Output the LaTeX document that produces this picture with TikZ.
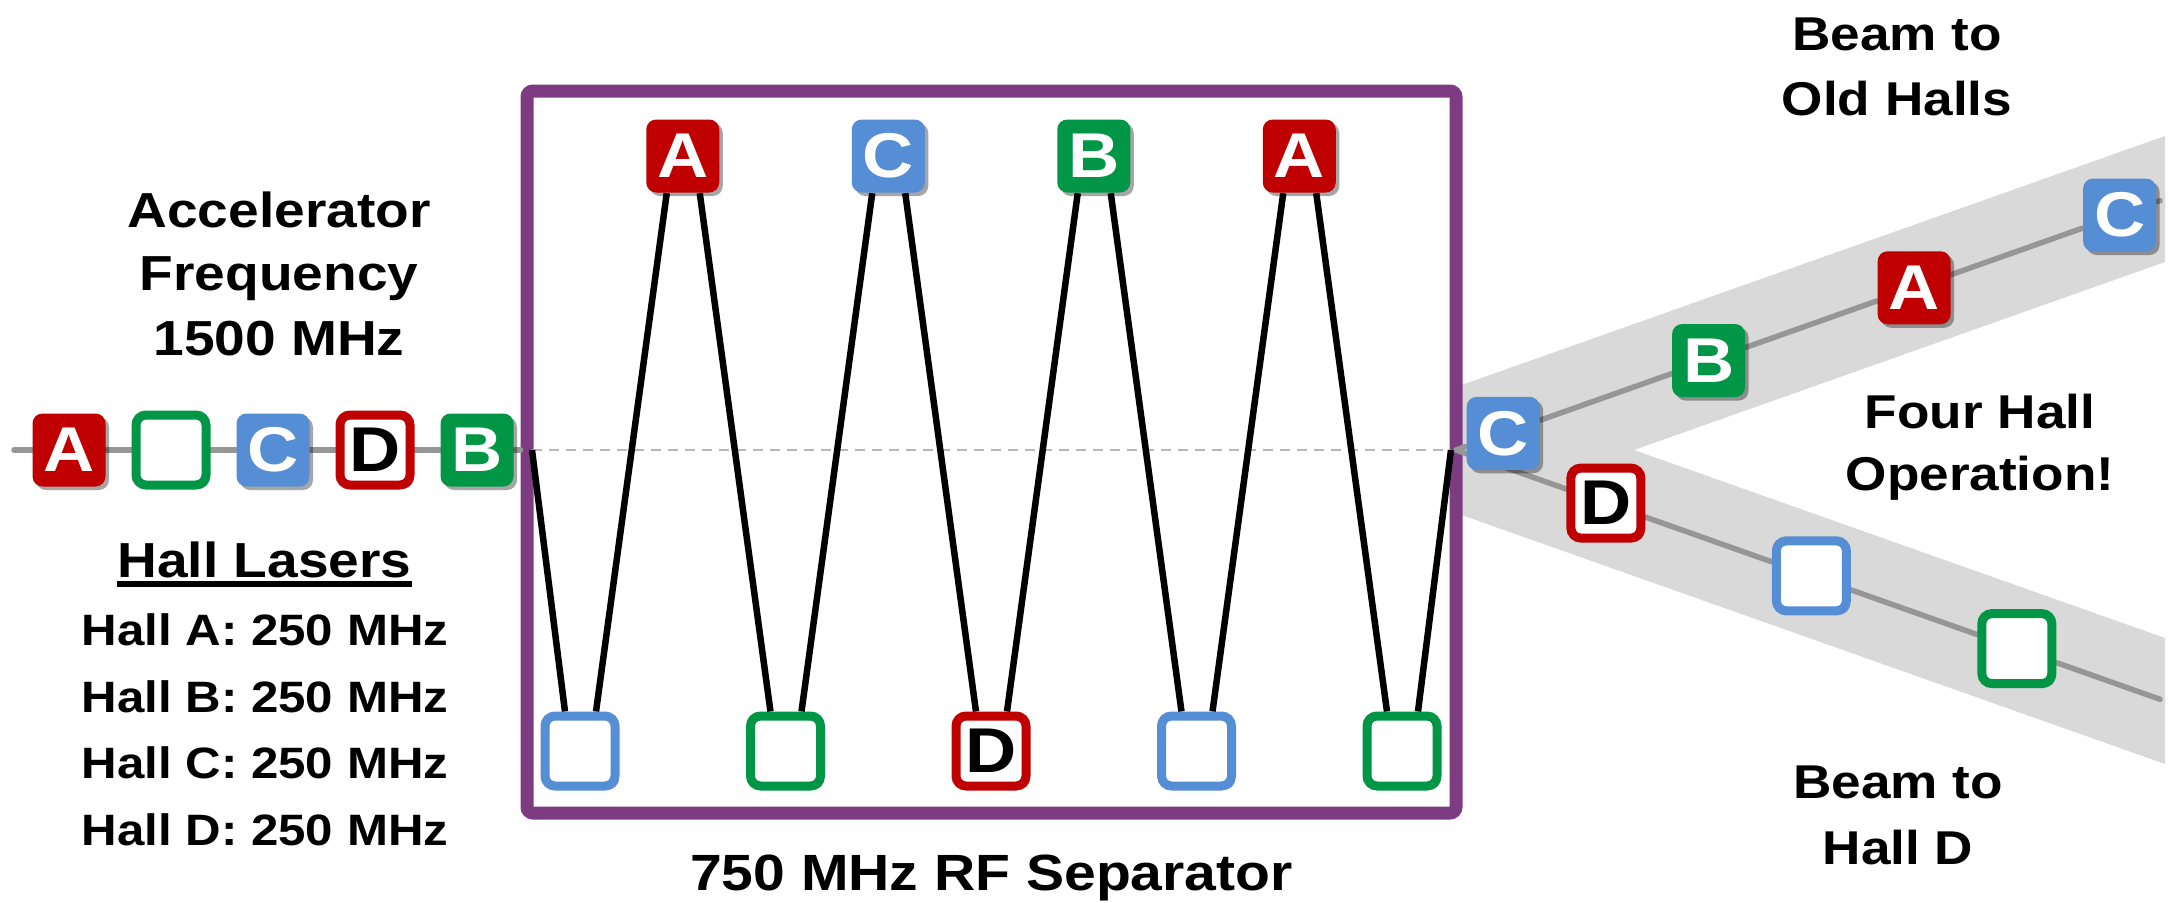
\documentclass[tikz,border=0pt]{standalone}
\usepackage{fontspec}
\setmainfont{Liberation Sans}[FakeStretch=1.12]
\usepackage{xcolor}
\usetikzlibrary{calc,shadows}

\definecolor{hallred}{RGB}{192,0,0}
\definecolor{hallgreen}{RGB}{0,150,70}
\definecolor{hallblue}{RGB}{85,142,213}
\definecolor{seppurple}{RGB}{125,60,130}
\definecolor{bandgray}{RGB}{217,217,217}
\definecolor{beamgray}{RGB}{150,150,150}

\pgfdeclarelayer{bg}
\pgfdeclarelayer{beams}
\pgfsetlayers{bg,beams,main}

\begin{document}
\begin{tikzpicture}[
  fullbox/.style={rectangle, fill=#1, rounded corners=0.1cm, inner sep=0pt,
                  minimum size=0.73cm, text=white,
                  font=\fontsize{18}{18}\selectfont\bfseries,
                  drop shadow={shadow xshift=0.035cm, shadow yshift=-0.035cm,
                               fill=black, opacity=0.35}},
  openbox/.style={rectangle, draw=#1, fill=white, line width=0.09cm,
                  rounded corners=0.1cm, inner sep=0pt, minimum size=0.70cm,
                  text=black, font=\fontsize{18}{18}\selectfont\bfseries,
                  drop shadow={shadow xshift=0.035cm, shadow yshift=-0.035cm,
                               fill=black, opacity=0.35}},
  lbl/.style={anchor=base, inner sep=0pt,
              font=\fontsize{14}{17}\selectfont\bfseries},
  hallline/.style={lbl, font=\fontsize{12.5}{15}\selectfont\bfseries},
  rlbl/.style={lbl, font=\fontsize{13.5}{16}\selectfont\bfseries},
  seplbl/.style={lbl, font=\fontsize{14.5}{17}\selectfont\bfseries},
  wave/.style={line width=0.065cm, draw=black},
  beam/.style={line width=0.055cm, draw=beamgray, line cap=round},
  rfdash/.style={line width=0.022cm, draw=black!28,
                 dash pattern=on 0.1cm off 0.07cm},
]

\useasboundingbox (0,0) rectangle (21.75,9.02);

%% Left — bunch train at the accelerator frequency
\node[fullbox=hallred]   (l1) at (0.69,4.52) {A};
\node[openbox=hallgreen] (l2) at (1.71,4.52) {};
\node[fullbox=hallblue]  (l3) at (2.73,4.52) {C};
\node[openbox=hallred]   (l4) at (3.75,4.52) {D};
\node[fullbox=hallgreen] (l5) at (4.77,4.52) {B};

\node[lbl] (acc1) at (2.79,6.75) {Accelerator};
\node[lbl] (acc2) at (2.79,6.12) {Frequency};
\node[lbl] (acc3) at (2.79,5.47) {1500 MHz};

\node[lbl] (hlas) at (2.645,3.25) {Hall Lasers};
\draw[line width=1.6pt] ([yshift=-0.07cm]hlas.base west) -- ([yshift=-0.07cm]hlas.base east);
\node[hallline] (hA) at (2.65,2.57) {Hall A: 250 MHz};
\node[hallline] (hB) at (2.65,1.90) {Hall B: 250 MHz};
\node[hallline] (hC) at (2.65,1.24) {Hall C: 250 MHz};
\node[hallline] (hD) at (2.65,0.57) {Hall D: 250 MHz};

%% Separator — top row (kicked up), bottom row (kicked down)
\node[fullbox=hallred]   (t1) at (6.8275,7.46)  {A};
\node[fullbox=hallblue]  (t2) at (8.8825,7.46)  {C};
\node[fullbox=hallgreen] (t3) at (10.9375,7.46) {B};
\node[fullbox=hallred]   (t4) at (12.9925,7.46) {A};

\node[openbox=hallblue]  (b1) at (5.80,1.51)   {};
\node[openbox=hallgreen] (b2) at (7.855,1.51)  {};
\node[openbox=hallred]   (b3) at (9.91,1.51)   {D};
\node[openbox=hallblue]  (b4) at (11.965,1.51) {};
\node[openbox=hallgreen] (b5) at (14.02,1.51)  {};

\node[seplbl] (sepl) at (9.915,0.12) {750 MHz RF Separator};

%% Right — the two beam lines after the separator
\coordinate (rOrig) at (14.56,4.52);
\node[fullbox=hallblue]  (u1) at ($(rOrig)+(19.5:0.50)$) {C};
\node[fullbox=hallgreen] (u2) at ($(rOrig)+(19.5:2.68)$) {B};
\node[fullbox=hallred]   (u3) at ($(rOrig)+(19.5:4.86)$) {A};
\node[fullbox=hallblue]  (u4) at ($(rOrig)+(19.5:7.04)$) {C};
\coordinate (uEnd) at ($(rOrig)+(19.5:7.47)$);

\node[openbox=hallred]   (d1) at ($(rOrig)+(-19.5:1.59)$) {D};
\node[openbox=hallblue]  (d2) at ($(rOrig)+(-19.5:3.77)$) {};
\node[openbox=hallgreen] (d3) at ($(rOrig)+(-19.5:5.95)$) {};
\coordinate (dEnd) at ($(rOrig)+(-19.5:7.47)$);

\node[rlbl] (old1)  at (18.97,8.52) {Beam to};
\node[rlbl] (old2)  at (18.97,7.87) {Old Halls};
\node[rlbl] (four1) at (19.80,4.74) {Four Hall};
\node[rlbl] (four2) at (19.80,4.12) {Operation!};
\node[rlbl] (hall1) at (18.98,1.04) {Beam to};
\node[rlbl] (hall2) at (18.98,0.38) {Hall D};

%% ── Background: beam bands and separator cavity ──────────────────────────
\begin{pgfonlayer}{bg}
  \fill[white] (0,0) rectangle (21.75,9.02);
  \fill[bandgray] (14.56,5.15) -- (21.65,7.66) -- (21.65,6.40) -- (16.34,4.52)
    -- (21.65,2.64) -- (21.65,1.38) -- (14.56,3.89) -- cycle;
  \node[draw=seppurple, fill=white, line width=0.13cm, rounded corners=0.06cm,
        inner sep=0pt, minimum width=9.29cm, minimum height=7.22cm]
    (sep) at (9.915,4.50) {};
  \coordinate (wIn)  at (5.32,4.52);
  \coordinate (wOut) at (14.51,4.52);
  \draw[rfdash] (wIn) -- (wOut);
\end{pgfonlayer}

%% ── Beam lines and RF wave ───────────────────────────────────────────────
\begin{pgfonlayer}{beams}
  \coordinate (lIn) at (0.14,4.52);
  \draw[beam] (lIn) -- (l1) -- (l2) -- (l3) -- (l4) -- (l5) -- (sep.west |- lIn);
  \draw[beam] (rOrig) -- (u1) -- (u2) -- (u3) -- (u4) -- (uEnd);
  \draw[beam] (rOrig) -- (d1) -- (d2) -- (d3) -- (dEnd);

  \draw[wave] (wIn) -- ([xshift=-0.15cm]b1.north);
  \draw[wave] ([xshift=0.16cm]b1.north) -- ([xshift=-0.16cm]t1.south);
  \draw[wave] ([xshift=0.17cm]t1.south) -- ([xshift=-0.15cm]b2.north);
  \draw[wave] ([xshift=0.16cm]b2.north) -- ([xshift=-0.16cm]t2.south);
  \draw[wave] ([xshift=0.17cm]t2.south) -- ([xshift=-0.15cm]b3.north);
  \draw[wave] ([xshift=0.16cm]b3.north) -- ([xshift=-0.16cm]t3.south);
  \draw[wave] ([xshift=0.17cm]t3.south) -- ([xshift=-0.15cm]b4.north);
  \draw[wave] ([xshift=0.16cm]b4.north) -- ([xshift=-0.16cm]t4.south);
  \draw[wave] ([xshift=0.17cm]t4.south) -- ([xshift=-0.15cm]b5.north);
  \draw[wave] ([xshift=0.16cm]b5.north) -- (wOut);
\end{pgfonlayer}

\end{tikzpicture}
\end{document}
